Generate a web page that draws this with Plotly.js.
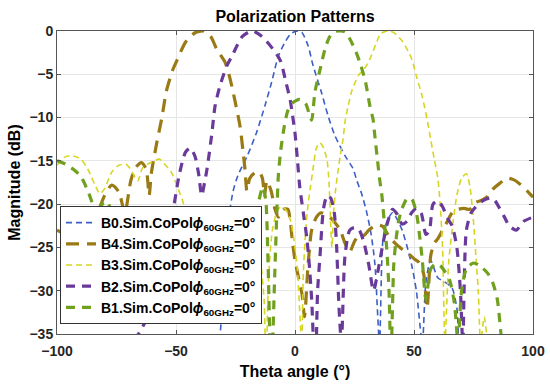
<!DOCTYPE html>
<html>
<head>
<meta charset="utf-8">
<script src="https://cdn.plot.ly/plotly-3.0.1.min.js"></script>
<style>html,body{margin:0;padding:0;background:#fff;}#chart{width:550px;height:386px;}</style>
</head>
<body>
<div id="chart"></div>
<script>
// ---- data (theta in degrees, magnitude in dB) ----
const names = [
  "B0.Sim.CoPol<i>ϕ</i><sub>60GHz</sub>=0°",
  "B4.Sim.CoPol<i>ϕ</i><sub>60GHz</sub>=0°",
  "B3.Sim.CoPol<i>ϕ</i><sub>60GHz</sub>=0°",
  "B2.Sim.CoPol<i>ϕ</i><sub>60GHz</sub>=0°",
  "B1.Sim.CoPol<i>ϕ</i><sub>60GHz</sub>=0°"
];

const thetaB0 = [-100,-80,-60,-45,-35,-30,-28,-26,-24,-20,-16,-12.6,-9.8,-7,-4,-2,0,1.5,3,5.5,7.6,11,13.9,16.8,21,24.4,26,28,30,32,33.6,35.5,37,39,41,43,45,47,49,51,53.5,55,57,60,63,66,68,71,80,100];
const magB0   = [-40,-38,-40,-38,-40,-30,-22,-18.5,-16.7,-14.4,-11.6,-8.6,-5.9,-2.9,-1.2,-0.4,-0.05,0,-0.2,-1.7,-4,-7,-9.8,-12.1,-14.4,-15.9,-17.3,-18.8,-20.8,-23.5,-27,-36,-24,-21.8,-21,-21.8,-23,-24.8,-27,-30,-36,-29,-26.5,-28.5,-29,-29.7,-32,-40,-40,-40];

const thetaB4 = [-100,-90,-83,-80,-77,-74,-71.5,-69,-67,-64.5,-62.5,-61.3,-60.3,-58,-56,-54,-51.5,-49.6,-46,-42,-38.5,-35.5,-32.9,-29.4,-27.3,-25.2,-23.1,-21.8,-21,-20.2,-19,-17,-15,-13.7,-12.8,-11.8,-10,-8.5,-7,-5,-3,-2,-1,0,1.5,3,4,5.5,7,9,11,13,15,17,19,21,23,25,27,29,31,33,35,37,39,42,45,48,50,52,54,55.5,57,58.5,60,62,64,66,68.5,71,73.5,76,78,80.5,83,86,89,92,95,98,100];
const magB4   = [-23,-24,-21,-19,-17.8,-18.6,-21,-17.3,-15.8,-15.2,-16,-19,-16.3,-12.8,-10.1,-6.9,-4.6,-3.4,-1.3,-0.2,0,-0.6,-2.1,-3.6,-5.5,-8.1,-11,-14,-16,-18.5,-17,-16.4,-16.3,-17,-19,-17.3,-18.5,-20.5,-21.5,-20.6,-20.6,-22,-24.5,-26.5,-28.5,-30.5,-33,-27,-23,-21.5,-21,-21.2,-21.6,-22.2,-23,-24.5,-25.5,-24.3,-23.6,-23.6,-23,-22.6,-22.4,-22.6,-23.5,-24.5,-25.2,-25.8,-26.3,-26.7,-28,-32,-26,-24.5,-24,-23,-22,-21,-20.6,-20.5,-20.6,-19.8,-19.6,-19.2,-18.3,-17.6,-17,-17.2,-17.8,-18.6,-19.2];

const thetaB3 = [-100,-97,-94,-90,-87,-84,-82,-80,-77,-74,-71,-69,-67,-66,-64,-60,-57,-55,-52,-49,-47,-45,-40,-30,-22,-16,-14.5,-13,-12.2,-11,-9.5,-7.5,-6,-4,-2,-0.5,1,2.8,3.5,4.5,5.5,6.5,7.8,9,10.5,12,13.5,14.3,14.8,15.5,16.2,17,18,19,20.2,21,22.3,24,25.5,27,28.5,30,32,34,36,38,40,42.5,45.4,49,51,53.4,55.5,57,58.5,60,61,62,63,64.5,66,68,70,72,73.5,75,76,77,78,79.5,81,85,100];
const magB3   = [-15.5,-14.6,-14.4,-14.8,-16,-17.8,-18.8,-18.2,-16.3,-15.5,-15.4,-16,-17,-17.3,-15.8,-15.1,-14.8,-15.3,-16.3,-18.3,-19.8,-22,-28,-30,-26,-24,-26.5,-31,-38,-28,-23,-20.8,-20.3,-20.6,-21.8,-24,-27.5,-36,-28,-23,-20,-18,-15.5,-13.5,-12.9,-13.5,-15,-17.5,-21,-25,-21,-18.5,-16.3,-14.4,-12.5,-10.5,-8.7,-6.8,-5.8,-5,-4.6,-4,-2.9,-1.5,-0.3,-0.05,0,-0.4,-1.3,-3.2,-5.2,-7.5,-10.2,-12.5,-14.8,-17,-20,-25,-36,-27,-23,-19,-17,-16.5,-18,-22,-26,-30,-36,-33,-36,-40,-40];

const thetaB2 = [-100,-80,-60,-52,-48.7,-46,-44,-42,-40.5,-39.2,-38,-37,-35,-33.6,-31.5,-28.6,-26.5,-22,-18,-14,-8.4,-6,-4,-2,-1,0,1,2,3.5,5,6,7,8.5,9.5,10.5,12,13.5,15,16.5,17.5,18.5,19.5,21,23,25,27,29,31,33,35,37,39,41,43,45,47,49,51,53,55,56.5,58,60,62,64,66,68,69.5,70.5,72,74,76,79,82,84,86,88,90,93,96,100];
const magB2   = [-40,-40,-32,-22,-16.7,-14,-13.5,-14.5,-16.5,-19,-17.5,-16,-12,-8.7,-6.3,-4,-2.9,-0.6,0,-0.6,-2.4,-3.5,-5.7,-8,-9.8,-11.8,-14.8,-18,-21,-24,-27,-31,-40,-30,-26,-20.5,-19,-19.3,-21,-25,-32,-36,-26,-23,-22.7,-23,-24.5,-27,-30,-27.5,-24.5,-22,-20.6,-21.2,-22.3,-22,-21,-20.5,-21,-23.5,-23,-20,-19.6,-20.3,-21.6,-22.5,-25,-30,-36,-23,-21,-20.3,-19.6,-19.3,-19.6,-20.5,-21.5,-22.5,-23,-22,-21.5];

const thetaB1 = [-100,-97,-93,-90,-87,-85,-83,-81,-79,-77,-75,-72,-70,-60,-40,-25,-18,-15.5,-13.5,-12.3,-11.3,-10,-8.5,-7.5,-7,-6,-4.5,-3,-1,2,4.5,6,7,8.4,10.5,12.5,14.5,17,19,21,23,25.6,27.7,29.7,31.5,32.8,33.5,34.5,35.5,36.5,37.5,38.5,39.5,40.3,41.5,42.5,43.5,45,47,49,51,52.5,53.5,55,57,59,61,63,65,67,68.5,70,72,75,78,81,83,85,87,90,100];
const magB1   = [-15,-15.3,-16,-16.8,-18.5,-20,-21.5,-20,-19.7,-21,-24,-26,-28,-30,-28,-30,-24,-20,-18,-19.5,-27,-40,-28,-20,-16.7,-13.8,-11,-9.2,-8.3,-7.9,-8.4,-9.6,-10.3,-7,-4.5,-2.2,-0.7,-0.05,0,-0.1,-0.9,-2.4,-4,-6,-8.7,-10.2,-12,-14.5,-17,-19,-22,-25,-30,-38,-27,-24,-22,-20.5,-19.4,-19.4,-21,-24,-26.5,-31,-27.5,-26.9,-27.1,-27.8,-28.8,-31.5,-36,-30,-27.5,-26.8,-27.2,-28,-29,-31,-36,-40,-40];

const tickValsX = [-100,-50,0,50,100];
const tickValsY = [-35,-30,-25,-20,-15,-10,-5,0];

const colors = ["#3d5ec6","#9a7a14","#d6d622","#6a3a9a","#71a01f"];
const widths = [1.6,3.2,1.6,3.2,3.2];
const dashes = ["6px,4px","13px,8px","6px,4px","9px,7px","9px,7px"];

const xs = [thetaB0, thetaB4, thetaB3, thetaB2, thetaB1];
const ys = [magB0, magB4, magB3, magB2, magB1];

const traces = xs.map((x,i)=>({
  x: x, y: ys[i], type:'scatter', mode:'lines', name: names[i],
  line:{color:colors[i], width:widths[i], dash:dashes[i], shape:'spline', smoothing:0.7}
}));

const fontFam = "Arial, 'Liberation Sans', sans-serif";
const layout = {
  width:550, height:386,
  margin:{l:57, r:17, t:31, b:52},
  paper_bgcolor:'#fff', plot_bgcolor:'#fff',
  font:{family:fontFam, size:14, color:'#262626', weight:'bold'},
  title:{text:'Polarization Patterns', font:{family:fontFam, size:16, color:'#000', weight:'bold'},
         x:0.5, xref:'paper', xanchor:'center', y:1-16/386, yref:'container', yanchor:'middle'},
  xaxis:{range:[-100,100], tickvals:tickValsX, showgrid:true, gridcolor:'#e6e6e6', zeroline:false,
         showline:true, mirror:'ticks', linecolor:'#555', linewidth:1, ticks:'inside', ticklen:4, tickcolor:'#555',
         ticklabelstandoff:4,
         tickfont:{family:fontFam, size:14, color:'#262626', weight:'bold'},
         title:{text:'Theta angle (°)', font:{family:fontFam, size:16, color:'#000', weight:'bold'}, standoff:8}},
  yaxis:{range:[-35,0], tickvals:tickValsY, showgrid:true, gridcolor:'#e6e6e6', zeroline:false,
         showline:true, mirror:'ticks', linecolor:'#555', linewidth:1, ticks:'inside', ticklen:4, tickcolor:'#555',
         tickfont:{family:fontFam, size:14, color:'#262626', weight:'bold'},
         title:{text:'Magnitude (dB)', font:{family:fontFam, size:16, color:'#000', weight:'bold'}, standoff:4}},
  legend:{x:3/476, y:(334-206)/303, xanchor:'left', yanchor:'top', bgcolor:'#fff', bordercolor:'#333', borderwidth:1,
          font:{family:fontFam, size:14, color:'#000', weight:'bold'}, tracegroupgap:0},
  showlegend:true
};

Plotly.newPlot('chart', traces, layout, {staticPlot:true, displayModeBar:false});
</script>
</body>
</html>
